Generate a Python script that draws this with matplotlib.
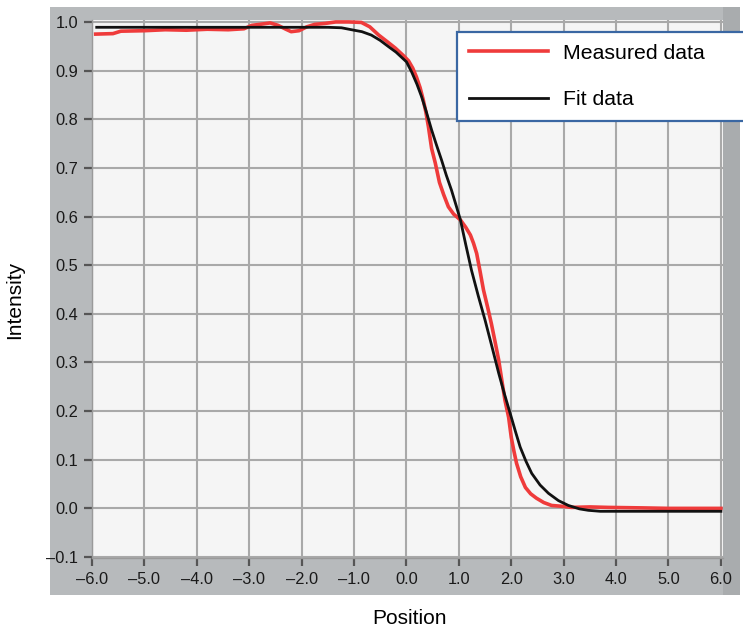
import matplotlib.pyplot as plt
from matplotlib.patches import Rectangle

# measured edge profile (red)
measured_x = [-5.93, -5.6, -5.45, -5.0, -4.6, -4.2, -3.8, -3.4, -3.1, -2.95, -2.8, -2.6,
              -2.45, -2.3, -2.2, -2.05, -1.9, -1.75, -1.55, -1.35, -1.1, -0.86, -0.7,
              -0.53, -0.35, -0.21, -0.05, 0.04, 0.12, 0.19, 0.26, 0.32, 0.37, 0.42, 0.48,
              0.55, 0.63, 0.71, 0.8, 0.9, 1.03, 1.13, 1.22, 1.28, 1.34, 1.4, 1.47, 1.55,
              1.62, 1.69, 1.76, 1.82, 1.88, 1.95, 2.0, 2.05, 2.1, 2.18, 2.27, 2.37, 2.48,
              2.62, 2.77, 3.0, 3.15, 3.5, 3.85, 4.5, 5.0, 5.5, 6.0]
measured_y = [0.975, 0.976, 0.981, 0.982, 0.984, 0.983, 0.985, 0.984, 0.986, 0.993, 0.995,
              0.998, 0.993, 0.985, 0.980, 0.982, 0.990, 0.995, 0.997, 1.0, 1.0, 0.999, 0.99,
              0.973, 0.958, 0.946, 0.93, 0.92, 0.905, 0.887, 0.865, 0.84, 0.815, 0.784, 0.74,
              0.71, 0.67, 0.645, 0.62, 0.605, 0.593, 0.578, 0.562, 0.545, 0.524, 0.49, 0.449,
              0.413, 0.38, 0.343, 0.305, 0.263, 0.222, 0.187, 0.146, 0.118, 0.093, 0.065,
              0.043, 0.03, 0.021, 0.012, 0.006, 0.004, 0.002, 0.003, 0.002, 0.001, 0.0, 0.0, 0.0]

# fitted edge profile (black)
fit_x = [-5.91, -3.0, -1.5, -1.24, -1.0, -0.85, -0.67, -0.5, -0.34, -0.2, -0.1, 0.0, 0.1,
         0.2, 0.29, 0.38, 0.48, 0.57, 0.67, 0.76, 0.86, 0.95, 1.03, 1.13, 1.24, 1.37, 1.5,
         1.63, 1.76, 1.87, 1.98, 2.08, 2.17, 2.28, 2.39, 2.55, 2.71, 2.9, 3.09, 3.3, 3.47,
         3.7, 4.5, 6.0]
fit_y = [0.989, 0.989, 0.989, 0.988, 0.983, 0.98, 0.973, 0.962, 0.949, 0.938, 0.928, 0.918,
         0.897, 0.872, 0.846, 0.815, 0.778, 0.748, 0.716, 0.685, 0.654, 0.622, 0.593, 0.543,
         0.49, 0.437, 0.387, 0.333, 0.278, 0.235, 0.195, 0.158, 0.126, 0.097, 0.072, 0.048,
         0.031, 0.016, 0.006, -0.001, -0.004, -0.006, -0.006, -0.006]

x_ticks = [-6, -5, -4, -3, -2, -1, 0, 1, 2, 3, 4, 5, 6]
y_ticks = [-0.1, 0.0, 0.1, 0.2, 0.3, 0.4, 0.5, 0.6, 0.7, 0.8, 0.9, 1.0]

plt.rcParams['font.family'] = ['Liberation Sans', 'DejaVu Sans']

W, H = 743, 629
fig = plt.figure(figsize=(W / 100, H / 100), dpi=100)

# grey frame behind the plot area
fig.patches.append(Rectangle((50 / W, 1 - 595 / H), 690 / W, 588 / H,
                             transform=fig.transFigure, facecolor='#b7babc',
                             edgecolor='none', zorder=-2))
fig.patches.append(Rectangle((723 / W, 1 - 595 / H), 17 / W, 588 / H,
                             transform=fig.transFigure, facecolor='#a9acae',
                             edgecolor='none', zorder=-1))

ax = fig.add_axes([92 / W, 1 - 558 / H, 631 / W, 538 / H])
ax.set_facecolor('#f5f5f5')

ax.plot(measured_x, measured_y, color='#ef3b3b', lw=2.6, label='Measured data',
        solid_joinstyle='round', zorder=3)
ax.plot(fit_x, fit_y, color='#111111', lw=2.0, label='Fit data', zorder=4)

ax.set_xlim(-6.0, 6.04)
ax.set_ylim(-0.102, 1.004)
ax.set_xticks(x_ticks)
ax.set_xticklabels([f'{v:.1f}'.replace('-', '\u2013') for v in x_ticks])
ax.set_yticks(y_ticks)
ax.set_yticklabels([f'{v:.1f}'.replace('-', '\u2013') for v in y_ticks])
ax.grid(True, color='#a9a9a9', lw=1.5)
ax.set_axisbelow(True)
ax.tick_params(axis='both', direction='out', length=6, width=1.6, color='#555555',
               labelsize=11.8, labelcolor='#1a1a1a')
ax.tick_params(axis='y', pad=4)
ax.tick_params(axis='x', pad=4)
for side in ['top', 'right']:
    ax.spines[side].set_visible(False)
for side in ['left', 'bottom']:
    ax.spines[side].set_color('#9a9a9a')
    ax.spines[side].set_linewidth(1.0)

leg = ax.legend(loc='upper left', bbox_to_anchor=(457 / W, 1 - 32 / H - 0.01, 320 / W, 0.01),
                bbox_transform=fig.transFigure, mode='expand', fontsize=15.3,
                frameon=True, fancybox=False, borderpad=0.55, labelspacing=1.29,
                handlelength=3.72, handletextpad=0.7, borderaxespad=0)
leg.get_frame().set_edgecolor('#3a67a3')
leg.get_frame().set_linewidth(1.6)
leg.get_frame().set_facecolor('white')
leg.get_frame().set_alpha(1)
leg.set_zorder(10)

fig.text(15 / W, 1 - 300 / H, 'Intensity', rotation=90, ha='center', va='center',
         fontsize=15)
fig.text(409 / W, 1 - 618 / H, 'Position', ha='center', va='center', fontsize=15)

fig.savefig('out.png', dpi=100)
